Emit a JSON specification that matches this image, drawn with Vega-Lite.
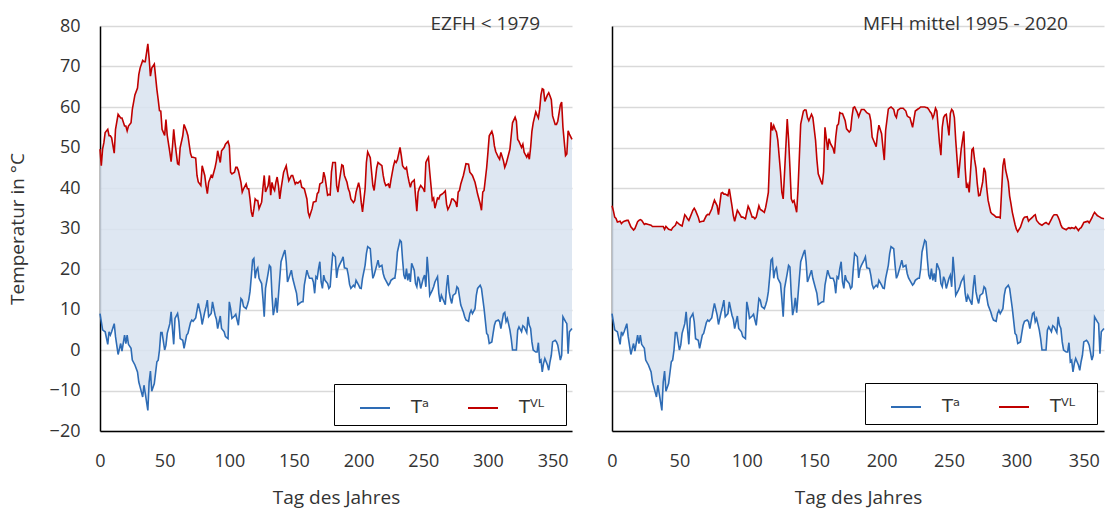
{
"$schema": "https://vega.github.io/schema/vega-lite/v6.json",
"background": "white",
"padding": {"left": 8, "top": 15, "right": 0, "bottom": 30},
"bounds": "flush",
"spacing": 40,
"config": {
  "font": "Open Sans",
  "view": {"stroke": null},
  "axis": {"labelFont": "Open Sans", "labelFontSize": 18, "labelColor": "#333333", "titleFont": "Open Sans", "titleFontSize": 19, "titleFontWeight": "normal", "titleColor": "#333333", "ticks": false, "domainColor": "#000000", "domainWidth": 1.5, "labelFlush": false, "labelOverlap": false},
  "axisX": {"grid": false, "labelPadding": 21, "titlePadding": 18},
  "axisY": {"gridColor": "#d9d9d9", "gridWidth": 1.5, "labelPadding": 20, "titlePadding": 22},
  "legend": {"orient": "bottom-right", "direction": "horizontal", "strokeColor": "#000000", "fillColor": "#ffffff", "padding": 8, "symbolType": "stroke", "symbolSize": 900, "symbolStrokeWidth": 2, "symbolOffset": 17, "labelFont": "DejaVu Sans", "labelFontSize": 18, "labelColor": "#333333", "labelOffset": 20, "columnPadding": 20}
},
"data": {"values": [
{"d":0,"a":9,"e":49.6,"m":35.6},{"d":1,"a":7,"e":45.5,"m":34.4},{"d":2,"a":5,"e":49.6,"m":32.8},{"d":3,"a":4.7,"e":51.2,"m":32.5},{"d":4,"a":4.5,"e":53.7,"m":31.6},{"d":6,"a":1.4,"e":54.5,"m":31.8},{"d":7,"a":4.5,"e":52.9,"m":31.2},{"d":8,"a":3.7,"e":52.9,"m":31.6},{"d":9,"a":4.5,"e":52.4,"m":31.8},{"d":11,"a":6.5,"e":48.6,"m":32},{"d":12,"a":3.3,"e":54.5,"m":32},{"d":14,"a":-1.1,"e":58.2,"m":30.4},{"d":16,"a":1.6,"e":57.3,"m":29.6},{"d":17,"a":-0.3,"e":57.3,"m":30},{"d":19,"a":3.7,"e":55.3,"m":31.7},{"d":20,"a":1.6,"e":55.3,"m":32},{"d":21,"a":3.7,"e":54.1,"m":32.2},{"d":22,"a":1.4,"e":55.3,"m":32},{"d":24,"a":0.4,"e":56.1,"m":31},{"d":25,"a":-2.5,"e":59.4,"m":31.2},{"d":27,"a":-3.7,"e":63,"m":31},{"d":29,"a":-5.4,"e":64.7,"m":30.8},{"d":30,"a":-7.9,"e":68,"m":30.5},{"d":31,"a":-9.1,"e":69.6,"m":30.5},{"d":33,"a":-11.6,"e":71.5,"m":30.5},{"d":34,"a":-8.7,"e":71.2,"m":30.5},{"d":35,"a":-10.7,"e":71.2,"m":30.5},{"d":37,"a":-14.9,"e":75.6,"m":30.5},{"d":38,"a":-7.9,"e":72,"m":30.5},{"d":39,"a":-5.2,"e":67.6,"m":29.8},{"d":40,"a":-10.2,"e":69.6,"m":30.5},{"d":42,"a":-8.3,"e":70.6,"m":29.8},{"d":44,"a":-2.9,"e":64.3,"m":29.6},{"d":45,"a":-2.5,"e":61.8,"m":30.2},{"d":46,"a":0,"e":59.1,"m":30.5},{"d":47,"a":4.3,"e":59,"m":30.8},{"d":48,"a":4.3,"e":54.5,"m":31.6},{"d":50,"a":0,"e":53,"m":31},{"d":51,"a":1.2,"e":56.9,"m":30.8},{"d":52,"a":4.1,"e":53,"m":30.6},{"d":54,"a":6.5,"e":48.8,"m":33.4},{"d":55,"a":9.4,"e":46.5,"m":33},{"d":56,"a":5.3,"e":50,"m":32.4},{"d":57,"a":1.4,"e":54.5,"m":32},{"d":58,"a":7.8,"e":51.2,"m":32.8},{"d":60,"a":9,"e":46,"m":34.5},{"d":61,"a":7,"e":45.8,"m":35},{"d":62,"a":2.8,"e":50,"m":34.4},{"d":64,"a":2.4,"e":52.9,"m":32.8},{"d":65,"a":0.4,"e":55.7,"m":31.6},{"d":67,"a":3.7,"e":54,"m":31.8},{"d":68,"a":4.1,"e":52.9,"m":31.8},{"d":70,"a":6.8,"e":48.5,"m":33.2},{"d":71,"a":7.4,"e":47.6,"m":33.5},{"d":72,"a":7.1,"e":47.6,"m":33.4},{"d":74,"a":7.9,"e":47.4,"m":34.8},{"d":75,"a":9.8,"e":43.1,"m":36},{"d":76,"a":11.5,"e":41.5,"m":37},{"d":78,"a":8.6,"e":40.6,"m":35.6},{"d":79,"a":6.3,"e":45.5,"m":33.4},{"d":81,"a":9.4,"e":43.1,"m":38.7},{"d":82,"a":10.7,"e":40.6,"m":38.9},{"d":83,"a":12.3,"e":38.6,"m":38.5},{"d":84,"a":8.2,"e":41.4,"m":38.5},{"d":86,"a":9,"e":43.1,"m":38.1},{"d":87,"a":11.9,"e":42.7,"m":39.8},{"d":89,"a":8.6,"e":45.1,"m":35.6},{"d":90,"a":7.6,"e":46.7,"m":33.2},{"d":91,"a":5.3,"e":49.2,"m":31.8},{"d":93,"a":8.4,"e":46.3,"m":34.5},{"d":94,"a":5.3,"e":49.2,"m":34},{"d":96,"a":4.5,"e":50,"m":32.8},{"d":97,"a":3.3,"e":50.8,"m":32.8},{"d":99,"a":2.8,"e":51.5,"m":32.4},{"d":100,"a":11.9,"e":50.4,"m":34},{"d":101,"a":10.2,"e":43.9,"m":35.5},{"d":102,"a":7.8,"e":43.5,"m":34.8},{"d":104,"a":8.4,"e":43.9,"m":32.8},{"d":105,"a":8.8,"e":45.1,"m":32.8},{"d":106,"a":7.4,"e":45.1,"m":32.4},{"d":107,"a":6.1,"e":44.3,"m":32.8},{"d":109,"a":12.7,"e":41.4,"m":35.6},{"d":110,"a":12.3,"e":39,"m":34.7},{"d":111,"a":10.7,"e":39.8,"m":34.5},{"d":113,"a":10.2,"e":41,"m":34},{"d":114,"a":11.1,"e":39.8,"m":35.2},{"d":115,"a":12.3,"e":39.8,"m":37},{"d":116,"a":14.4,"e":37.3,"m":38.9},{"d":117,"a":18.1,"e":34.1,"m":47.7},{"d":118,"a":22.2,"e":32.9,"m":56.2},{"d":119,"a":22.6,"e":34.9,"m":54.2},{"d":120,"a":17.7,"e":37.3,"m":55.4},{"d":121,"a":19.7,"e":36.9,"m":54.5},{"d":122,"a":20.3,"e":36.9,"m":53.8},{"d":123,"a":17.7,"e":34.9,"m":51.8},{"d":125,"a":16.4,"e":36.5,"m":44},{"d":126,"a":12.7,"e":40,"m":39},{"d":127,"a":8.2,"e":43.1,"m":37.3},{"d":128,"a":15.2,"e":39,"m":43.7},{"d":130,"a":18.9,"e":40.6,"m":57},{"d":131,"a":20.9,"e":43.1,"m":52},{"d":132,"a":20.5,"e":38.2,"m":45},{"d":133,"a":13.5,"e":41.4,"m":37.3},{"d":134,"a":8.6,"e":40,"m":36.5},{"d":135,"a":10.2,"e":39.4,"m":36.9},{"d":136,"a":12.9,"e":41.4,"m":35.5},{"d":137,"a":9.2,"e":42.7,"m":34},{"d":138,"a":13.5,"e":40.6,"m":39.7},{"d":139,"a":17.7,"e":37.3,"m":47.7},{"d":140,"a":21.8,"e":39.8,"m":55.8},{"d":142,"a":23.8,"e":43.9,"m":59},{"d":143,"a":24.7,"e":44.7,"m":59.3},{"d":144,"a":21.8,"e":45.5,"m":59.2},{"d":145,"a":16.8,"e":43.5,"m":57.4},{"d":146,"a":17.7,"e":41.8,"m":56.6},{"d":148,"a":19.7,"e":43.1,"m":58.2},{"d":149,"a":17.7,"e":43.1,"m":57.4},{"d":151,"a":15.2,"e":41,"m":51.8},{"d":152,"a":14,"e":41.4,"m":47},{"d":153,"a":11.2,"e":41.2,"m":43.5},{"d":155,"a":11.7,"e":41.8,"m":41.7},{"d":156,"a":11.9,"e":40.2,"m":40.9},{"d":157,"a":11.9,"e":40,"m":44},{"d":158,"a":16,"e":39.8,"m":55},{"d":160,"a":19.7,"e":37.3,"m":49.4},{"d":161,"a":18.6,"e":34,"m":52.2},{"d":162,"a":17.7,"e":32.9,"m":51},{"d":164,"a":17.7,"e":34.9,"m":49.8},{"d":165,"a":16.8,"e":36.5,"m":48.5},{"d":166,"a":14,"e":36.6,"m":52.6},{"d":167,"a":18.1,"e":36.7,"m":55.4},{"d":168,"a":17.7,"e":38.6,"m":55.8},{"d":169,"a":20.1,"e":39,"m":58.6},{"d":170,"a":21.8,"e":41,"m":58.4},{"d":171,"a":16.8,"e":41.2,"m":58.4},{"d":172,"a":15.2,"e":41.4,"m":57.5},{"d":173,"a":18.5,"e":43.9,"m":56.6},{"d":174,"a":17.2,"e":42.7,"m":54.6},{"d":176,"a":16.4,"e":38.2,"m":53.8},{"d":177,"a":15.2,"e":38.4,"m":54.2},{"d":178,"a":15.6,"e":38.3,"m":57.5},{"d":179,"a":20.1,"e":44,"m":59.8},{"d":180,"a":23.8,"e":46.3,"m":60},{"d":182,"a":23,"e":46.3,"m":58.6},{"d":183,"a":17.8,"e":40.6,"m":57.6},{"d":184,"a":20.1,"e":39,"m":58.5},{"d":185,"a":20.9,"e":41.5,"m":59.4},{"d":187,"a":22.2,"e":45.7,"m":59.4},{"d":188,"a":23,"e":45.5,"m":59},{"d":189,"a":20.3,"e":43.1,"m":58.6},{"d":191,"a":20.1,"e":41.4,"m":58.2},{"d":192,"a":18.5,"e":39.8,"m":56.6},{"d":193,"a":16.2,"e":39,"m":52.6},{"d":194,"a":15.2,"e":37.3,"m":51.8},{"d":196,"a":16,"e":36.4,"m":50.2},{"d":197,"a":15.6,"e":36.9,"m":53.4},{"d":198,"a":17.2,"e":39,"m":55.5},{"d":200,"a":16,"e":41.3,"m":53.4},{"d":201,"a":15.3,"e":39.8,"m":50},{"d":202,"a":15.2,"e":36.5,"m":46.9},{"d":203,"a":17.7,"e":34.1,"m":54.2},{"d":205,"a":20.9,"e":39.8,"m":59.5},{"d":206,"a":23.8,"e":46.3,"m":59.8},{"d":207,"a":25.5,"e":48.9,"m":60},{"d":209,"a":25,"e":47.5,"m":59.4},{"d":210,"a":20.9,"e":44,"m":58},{"d":211,"a":17.7,"e":40.6,"m":57.4},{"d":212,"a":18.5,"e":39.4,"m":59.2},{"d":214,"a":20.9,"e":45,"m":59.7},{"d":215,"a":22.2,"e":46.3,"m":59.7},{"d":216,"a":20.5,"e":46,"m":59.7},{"d":218,"a":20.9,"e":45.5,"m":59},{"d":219,"a":18.9,"e":43.1,"m":57.8},{"d":220,"a":17.8,"e":41.5,"m":57.5},{"d":221,"a":17.2,"e":40.6,"m":57.4},{"d":223,"a":16,"e":41,"m":55},{"d":224,"a":16.4,"e":40,"m":57},{"d":225,"a":17.2,"e":42,"m":59},{"d":227,"a":17.7,"e":45.5,"m":59.5},{"d":228,"a":17.7,"e":46.7,"m":59.7},{"d":229,"a":20.1,"e":46.3,"m":60},{"d":230,"a":24.2,"e":47,"m":60},{"d":232,"a":27.1,"e":50,"m":60},{"d":233,"a":26.7,"e":48,"m":59.9},{"d":234,"a":22.2,"e":45.5,"m":59.8},{"d":235,"a":18.5,"e":45,"m":59.4},{"d":236,"a":17.5,"e":44.7,"m":58.8},{"d":237,"a":20.1,"e":45.1,"m":58.4},{"d":238,"a":17.2,"e":43.1,"m":57.3},{"d":239,"a":18.9,"e":41.5,"m":58.2},{"d":240,"a":16.8,"e":40.2,"m":59.7},{"d":241,"a":21.4,"e":41.4,"m":59},{"d":243,"a":19.7,"e":42,"m":51},{"d":244,"a":16.4,"e":38,"m":48.1},{"d":245,"a":15.6,"e":34.3,"m":55},{"d":246,"a":18.1,"e":39,"m":57.4},{"d":247,"a":17.2,"e":40,"m":58},{"d":248,"a":15.2,"e":40.6,"m":58.2},{"d":250,"a":17.7,"e":39.8,"m":53},{"d":251,"a":18.5,"e":39,"m":58.4},{"d":252,"a":15.6,"e":46.3,"m":59.4},{"d":253,"a":23,"e":47,"m":59},{"d":254,"a":18.9,"e":47.6,"m":57.4},{"d":255,"a":13.5,"e":43.9,"m":51.8},{"d":257,"a":14.8,"e":37,"m":42.5},{"d":258,"a":15.6,"e":37.5,"m":46},{"d":259,"a":16.8,"e":35,"m":49.4},{"d":261,"a":18.1,"e":37.5,"m":54},{"d":262,"a":14,"e":37.3,"m":45},{"d":263,"a":11.9,"e":38.2,"m":40},{"d":264,"a":13.5,"e":38.4,"m":40.9},{"d":265,"a":12.7,"e":38.6,"m":38.9},{"d":267,"a":11.2,"e":39.3,"m":49.4},{"d":268,"a":15.6,"e":36,"m":49.8},{"d":269,"a":18.5,"e":34.7,"m":47},{"d":270,"a":14.4,"e":35.3,"m":45},{"d":271,"a":12.7,"e":36.1,"m":41},{"d":272,"a":11.5,"e":37.3,"m":38.1},{"d":273,"a":13.5,"e":37.3,"m":38.2},{"d":275,"a":14,"e":36.5,"m":41.5},{"d":276,"a":15.6,"e":35.3,"m":45},{"d":277,"a":15.2,"e":39,"m":44},{"d":278,"a":13.1,"e":39.4,"m":40},{"d":279,"a":11.1,"e":41,"m":37},{"d":281,"a":9.4,"e":43.1,"m":34},{"d":282,"a":8.2,"e":44.5,"m":33.6},{"d":283,"a":7.4,"e":46,"m":33.4},{"d":285,"a":7.1,"e":45.9,"m":32.8},{"d":286,"a":9,"e":43.9,"m":32.8},{"d":287,"a":9.8,"e":43.5,"m":32.8},{"d":288,"a":9,"e":43.1,"m":32.6},{"d":290,"a":10.2,"e":41.4,"m":45.5},{"d":291,"a":13.5,"e":40,"m":47.3},{"d":292,"a":15.2,"e":38.5,"m":44.5},{"d":294,"a":16,"e":36.1,"m":41.5},{"d":295,"a":15.2,"e":34.5,"m":38},{"d":296,"a":12.7,"e":39,"m":36.1},{"d":297,"a":10.2,"e":39.4,"m":34},{"d":299,"a":4.1,"e":45,"m":31},{"d":300,"a":3.7,"e":48.8,"m":29.8},{"d":301,"a":1.6,"e":52.9,"m":29.2},{"d":303,"a":2,"e":54,"m":30.3},{"d":304,"a":4.1,"e":52.9,"m":31.3},{"d":305,"a":6.1,"e":50.4,"m":32.3},{"d":306,"a":7.1,"e":49,"m":32.8},{"d":308,"a":7.4,"e":47.6,"m":32.9},{"d":309,"a":7,"e":47.1,"m":31.8},{"d":310,"a":5.3,"e":48.8,"m":32.2},{"d":312,"a":9,"e":46.7,"m":32.8},{"d":313,"a":9.3,"e":45.1,"m":33.2},{"d":314,"a":7,"e":45.9,"m":33.4},{"d":315,"a":7.8,"e":47.1,"m":32},{"d":317,"a":4.9,"e":49.6,"m":31.2},{"d":318,"a":2.8,"e":52.9,"m":31},{"d":319,"a":0,"e":56.1,"m":30.8},{"d":321,"a":0,"e":57.5,"m":31.3},{"d":322,"a":0,"e":56.5,"m":31.5},{"d":323,"a":4.9,"e":52,"m":31.2},{"d":324,"a":5.7,"e":51.5,"m":31},{"d":326,"a":4.5,"e":50,"m":32.3},{"d":327,"a":6,"e":50.8,"m":33},{"d":328,"a":5.7,"e":48.8,"m":33.4},{"d":330,"a":4.3,"e":47.6,"m":33.4},{"d":331,"a":8.2,"e":48.4,"m":32.8},{"d":332,"a":6.1,"e":47.1,"m":32},{"d":333,"a":5.3,"e":50,"m":30.9},{"d":334,"a":2,"e":54,"m":30.2},{"d":335,"a":0,"e":56.1,"m":30},{"d":337,"a":-0.5,"e":58.8,"m":29.7},{"d":338,"a":-0.5,"e":58,"m":30},{"d":339,"a":1.8,"e":57.3,"m":30.2},{"d":340,"a":-2.9,"e":59.4,"m":30},{"d":341,"a":-2.5,"e":63,"m":30.2},{"d":342,"a":-5.4,"e":64.5,"m":30.1},{"d":343,"a":-3.3,"e":64.3,"m":30},{"d":344,"a":-2.1,"e":61.4,"m":30.4},{"d":346,"a":-3.7,"e":63,"m":29.5},{"d":347,"a":-5,"e":63.5,"m":30},{"d":348,"a":-2.9,"e":62.7,"m":30.2},{"d":349,"a":-1.3,"e":61.8,"m":30.8},{"d":350,"a":2,"e":57.8,"m":31.5},{"d":352,"a":2.4,"e":55.7,"m":31.7},{"d":353,"a":2,"e":55.7,"m":31.8},{"d":354,"a":1.2,"e":56.5,"m":31.4},{"d":356,"a":-2.5,"e":60.5,"m":32.6},{"d":357,"a":-1.3,"e":61.2,"m":33.4},{"d":358,"a":8.2,"e":55,"m":34},{"d":360,"a":7,"e":48,"m":33.2},{"d":361,"a":6.5,"e":48.4,"m":33},{"d":362,"a":-0.9,"e":54.1,"m":32.8},{"d":363,"a":4.5,"e":53.3,"m":32.6},{"d":365,"a":5.3,"e":52,"m":32.4}
]},
"resolve": {"scale": {"color": "independent", "x": "independent", "y": "independent"}},
"hconcat": [
  {
    "width": 472, "height": 405,
    "layer": [
      {
        "mark": {"type": "area", "color": "#d8e3f0", "fillOpacity": 0.85},
        "encoding": {
          "x": {"field": "d", "type": "quantitative", "scale": {"domain": [0, 365], "nice": false}, "axis": {"values": [0,50,100,150,200,250,300,350], "title": "Tag des Jahres"}},
          "y": {"field": "e", "type": "quantitative", "scale": {"domain": [-20, 80], "nice": false}, "axis": {"values": [-20,-10,0,10,20,30,40,50,60,70,80], "title": "Temperatur in °C"}},
          "y2": {"field": "a"}
        }
      },
      {
        "transform": [{"fold": ["a", "e"], "as": ["s", "v"]}],
        "mark": {"type": "line", "strokeWidth": 1.6},
        "encoding": {
          "x": {"field": "d", "type": "quantitative", "scale": {"domain": [0, 365], "nice": false}, "axis": {"values": [0,50,100,150,200,250,300,350], "title": "Tag des Jahres"}},
          "y": {"field": "v", "type": "quantitative", "scale": {"domain": [-20, 80], "nice": false}, "axis": {"values": [-20,-10,0,10,20,30,40,50,60,70,80], "title": "Temperatur in °C"}},
          "color": {"field": "s", "type": "nominal", "scale": {"domain": ["a", "e"], "range": ["#2e6cb5", "#c00000"]}, "legend": {"title": null, "offset": 6, "labelExpr": "datum.label == 'a' ? 'Tᵃ' : 'Tⱽᴸ\u2800'"}}
        }
      },
      {
        "data": {"values": [{"t": "EZFH < 1979"}]},
        "mark": {"type": "text", "align": "right", "baseline": "middle", "dx": -32, "dy": -2, "font": "Open Sans", "fontSize": 19, "color": "#333333"},
        "encoding": {"x": {"datum": 365, "type": "quantitative"}, "y": {"datum": 80, "type": "quantitative"}, "text": {"field": "t"}}
      }
    ]
  },
  {
    "width": 492, "height": 405,
    "layer": [
      {
        "mark": {"type": "area", "color": "#d8e3f0", "fillOpacity": 0.85},
        "encoding": {
          "x": {"field": "d", "type": "quantitative", "scale": {"domain": [0, 365], "nice": false}, "axis": {"values": [0,50,100,150,200,250,300,350], "title": "Tag des Jahres"}},
          "y": {"field": "m", "type": "quantitative", "scale": {"domain": [-20, 80], "nice": false}, "axis": {"values": [-20,-10,0,10,20,30,40,50,60,70,80], "labels": false, "title": null}},
          "y2": {"field": "a"}
        }
      },
      {
        "transform": [{"fold": ["a", "m"], "as": ["s", "v"]}],
        "mark": {"type": "line", "strokeWidth": 1.6},
        "encoding": {
          "x": {"field": "d", "type": "quantitative", "scale": {"domain": [0, 365], "nice": false}, "axis": {"values": [0,50,100,150,200,250,300,350], "title": "Tag des Jahres"}},
          "y": {"field": "v", "type": "quantitative", "scale": {"domain": [-20, 80], "nice": false}, "axis": {"values": [-20,-10,0,10,20,30,40,50,60,70,80], "labels": false, "title": null}},
          "color": {"field": "s", "type": "nominal", "scale": {"domain": ["a", "m"], "range": ["#2e6cb5", "#c00000"]}, "legend": {"title": null, "offset": 7, "labelExpr": "datum.label == 'a' ? 'Tᵃ' : 'Tⱽᴸ\u2800'"}}
        }
      },
      {
        "data": {"values": [{"t": "MFH mittel 1995 - 2020"}]},
        "mark": {"type": "text", "align": "right", "baseline": "middle", "dx": -36, "dy": -2, "font": "Open Sans", "fontSize": 19, "color": "#333333"},
        "encoding": {"x": {"datum": 365, "type": "quantitative"}, "y": {"datum": 80, "type": "quantitative"}, "text": {"field": "t"}}
      }
    ]
  }
]
}
